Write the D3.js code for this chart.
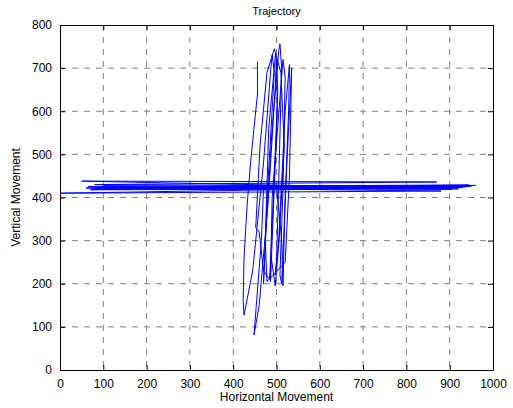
<!DOCTYPE html>
<html>
<head>
<meta charset="utf-8">
<script src="https://cdn.jsdelivr.net/npm/d3@7"></script>
<style>
  body { margin: 0; background: #fff; }
  svg { font-family: "Liberation Sans", Arial, sans-serif; }
</style>
</head>
<body>
<div id="chart"></div>
<script>
// Trajectory samples (horizontal, vertical)
const xs = [456, 456, 440, 432, 425, 423, 425, 445, 470, 487, 490, 495, 480, 470, 476, 490, 505, 508, 512, 505,
            500, 497, 505, 520, 530, 528, 520, 515, 512, 500, 60, 960, 70, 920, 50, 870, 80, 940, 0, 880,
            90, 950, 75, 930, 100, 905, 65, 945, 85, 890,
            470, 465, 448, 460, 480, 497, 500, 502, 490, 486, 490, 515, 520, 515, 508, 512, 525, 535, 530, 520,
            478, 474, 482, 498, 503, 492, 484, 470, 460, 452, 462, 478, 495, 510, 518, 506, 497, 488];
const ys = [715, 640, 480, 380, 260, 160, 127, 230, 480, 700, 731, 690, 430, 200, 330, 560, 740, 756, 700, 430,
            250, 220, 300, 600, 708, 600, 400, 195, 300, 425, 422, 428, 418, 420, 438, 436, 430, 425, 410, 415,
            424, 426, 421, 423, 427, 419, 425, 429, 420, 422,
            420, 300, 81, 150, 380, 650, 720, 600, 300, 205, 400, 720, 680, 420, 220, 200, 500, 700, 450, 250,
            205, 300, 560, 735, 650, 380, 210, 230, 320, 330, 520, 690, 745, 690, 520, 300, 195, 260];
const xTicks = [0, 100, 200, 300, 400, 500, 600, 700, 800, 900, 1000];
const yTicks = [0, 100, 200, 300, 400, 500, 600, 700, 800];

const margin = {top: 25, right: 20, bottom: 38, left: 60},
      width = 513 - margin.left - margin.right,
      height = 408 - margin.top - margin.bottom;

const svg = d3.select("#chart")
              .append("svg")
              .attr("width", 513)
              .attr("height", 408);

const g = svg.append("g")
             .attr("transform", `translate(${margin.left},${margin.top})`);

const x = d3.scaleLinear().domain([0, 1000]).range([0, width]);
const y = d3.scaleLinear().domain([0, 800]).range([height, 0]);

// Grid
g.append("g").selectAll("line")
 .data(xTicks.slice(1, -1))
 .enter().append("line")
 .attr("x1", d => x(d)).attr("x2", d => x(d))
 .attr("y1", 0).attr("y2", height)
 .attr("stroke", "#808080").attr("stroke-width", 1)
 .attr("stroke-dasharray", "6,6");
g.append("g").selectAll("line")
 .data(yTicks.slice(1, -1))
 .enter().append("line")
 .attr("y1", d => y(d)).attr("y2", d => y(d))
 .attr("x1", 0).attr("x2", width)
 .attr("stroke", "#808080").attr("stroke-width", 1)
 .attr("stroke-dasharray", "6,6");

// Trajectory line
const pts = xs.map((v, i) => [v, ys[i]]);
svg.append("clipPath").attr("id", "clip")
   .append("rect").attr("width", width).attr("height", height);
g.append("path")
 .datum(pts)
 .attr("clip-path", "url(#clip)")
 .attr("fill", "none")
 .attr("stroke", "#0000ff")
 .attr("stroke-width", 1)
 .attr("d", d3.line().x(d => x(d[0])).y(d => y(d[1])));

// Axes (MATLAB style, ticks inward, box)
const fmt = d3.format("d");
const axB = g.append("g").attr("transform", `translate(0,${height})`)
             .call(d3.axisBottom(x).tickValues(xTicks).tickFormat(fmt).tickSizeInner(-5).tickSizeOuter(0).tickPadding(9));
const axT = g.append("g")
             .call(d3.axisTop(x).tickValues(xTicks).tickSizeInner(-5).tickSizeOuter(0).tickFormat(""));
const axL = g.append("g")
             .call(d3.axisLeft(y).tickValues(yTicks).tickFormat(fmt).tickSizeInner(-5).tickSizeOuter(0).tickPadding(8));
const axR = g.append("g").attr("transform", `translate(${width},0)`)
             .call(d3.axisRight(y).tickValues(yTicks).tickSizeInner(-5).tickSizeOuter(0).tickFormat(""));
[axB, axT, axL, axR].forEach(a => {
  a.select(".domain").attr("stroke", "#000").attr("stroke-width", 1);
  a.selectAll("line").attr("stroke", "#000");
  a.selectAll("text").attr("font-size", 12).attr("fill", "#000")
   .attr("font-family", "Liberation Sans, Arial, sans-serif");
});

// Labels
svg.append("text")
   .attr("x", margin.left + width / 2).attr("y", 15)
   .attr("text-anchor", "middle").attr("font-size", 11)
   .text("Trajectory");
svg.append("text")
   .attr("x", margin.left + width / 2).attr("y", 401)
   .attr("text-anchor", "middle").attr("font-size", 12)
   .text("Horizontal Movement");
svg.append("text")
   .attr("transform", `translate(20,${margin.top + height / 2}) rotate(-90)`)
   .attr("text-anchor", "middle").attr("font-size", 12)
   .text("Vertical Movement");
</script>
</body>
</html>
